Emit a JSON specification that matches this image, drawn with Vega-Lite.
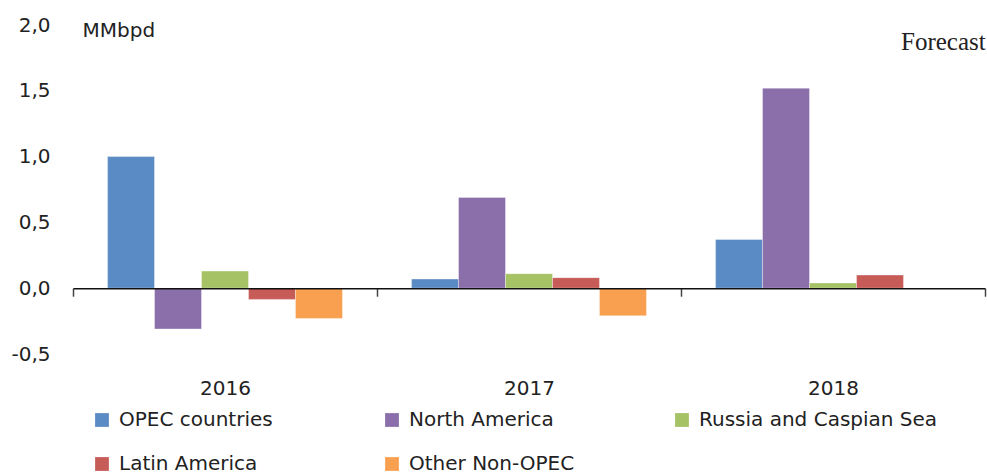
{
  "$schema": "https://vega.github.io/schema/vega-lite/v6.json",
  "width": 912,
  "height": 329,
  "autosize": "none",
  "padding": {"left": 73, "top": 25, "right": 2, "bottom": 122},
  "background": "white",
  "config": {"view": {"stroke": null}, "font": "DejaVu Sans"},
  "title": {
    "text": "Forecast",
    "anchor": "end",
    "font": "Liberation Serif",
    "fontSize": 25,
    "fontWeight": "normal",
    "color": "#222222",
    "offset": 0,
    "baseline": "alphabetic",
    "dy": 60
  },
  "data": {
    "values": [
      {"year": "2016", "region": "OPEC countries", "value": 1.0},
      {"year": "2016", "region": "North America", "value": -0.31},
      {"year": "2016", "region": "Russia and Caspian Sea", "value": 0.13},
      {"year": "2016", "region": "Latin America", "value": -0.085},
      {"year": "2016", "region": "Other Non-OPEC", "value": -0.23},
      {"year": "2017", "region": "OPEC countries", "value": 0.07},
      {"year": "2017", "region": "North America", "value": 0.69},
      {"year": "2017", "region": "Russia and Caspian Sea", "value": 0.11},
      {"year": "2017", "region": "Latin America", "value": 0.08},
      {"year": "2017", "region": "Other Non-OPEC", "value": -0.21},
      {"year": "2018", "region": "OPEC countries", "value": 0.37},
      {"year": "2018", "region": "North America", "value": 1.52},
      {"year": "2018", "region": "Russia and Caspian Sea", "value": 0.04},
      {"year": "2018", "region": "Latin America", "value": 0.1}
    ]
  },
  "mark": {"type": "bar", "stroke": "white", "strokeWidth": 0.6, "strokeOpacity": 0.6},
  "encoding": {
    "x": {
      "field": "year",
      "type": "nominal",
      "scale": {"paddingInner": 0, "paddingOuter": 0},
      "axis": {
        "title": null,
        "labelAngle": 0,
        "offset": -65.8,
        "zindex": 1,
        "domain": true,
        "domainColor": "#111111",
        "domainWidth": 1.5,
        "ticks": true,
        "tickBand": "extent",
        "tickColor": "#444444",
        "tickWidth": 1.5,
        "tickSize": 8,
        "labelPadding": 82,
        "labelFont": "DejaVu Sans",
        "labelFontSize": 20,
        "labelColor": "#222222"
      }
    },
    "xOffset": {
      "field": "region",
      "type": "nominal",
      "sort": ["OPEC countries", "North America", "Russia and Caspian Sea", "Latin America", "Other Non-OPEC"],
      "scale": {"paddingInner": 0, "paddingOuter": 0.735}
    },
    "y": {
      "field": "value",
      "type": "quantitative",
      "scale": {"domain": [-0.5, 2], "nice": false, "zero": false},
      "axis": {
        "values": [-0.5, 0, 0.5, 1, 1.5, 2],
        "labelExpr": "(datum.value < 0 ? '-' : '') + replace(format(abs(datum.value), '.1f'), '.', ',')",
        "domain": false,
        "ticks": false,
        "grid": false,
        "labelPadding": 23,
        "labelFont": "DejaVu Sans",
        "labelFontSize": 20,
        "labelColor": "#222222",
        "title": "MMbpd",
        "titleAngle": 0,
        "titleAlign": "left",
        "titleBaseline": "middle",
        "titleX": 9,
        "titleY": 5,
        "titleFont": "DejaVu Sans",
        "titleFontSize": 20,
        "titleFontWeight": "normal",
        "titleColor": "#222222"
      }
    },
    "color": {
      "field": "region",
      "type": "nominal",
      "scale": {
        "domain": ["OPEC countries", "North America", "Russia and Caspian Sea", "Latin America", "Other Non-OPEC"],
        "range": ["#5b8bc4", "#8a6fab", "#a5c264", "#c75b58", "#f9a050"]
      },
      "legend": {
        "title": null,
        "orient": "none",
        "legendX": 19,
        "legendY": 385,
        "direction": "horizontal",
        "columns": 3,
        "gridAlign": "all",
        "columnPadding": 24,
        "rowPadding": 24,
        "symbolType": "square",
        "symbolSize": 190,
        "symbolStrokeWidth": 0,
        "labelFont": "DejaVu Sans",
        "labelFontSize": 20,
        "labelColor": "#222222",
        "labelOffset": 7,
        "labelLimit": 400
      }
    }
  }
}
